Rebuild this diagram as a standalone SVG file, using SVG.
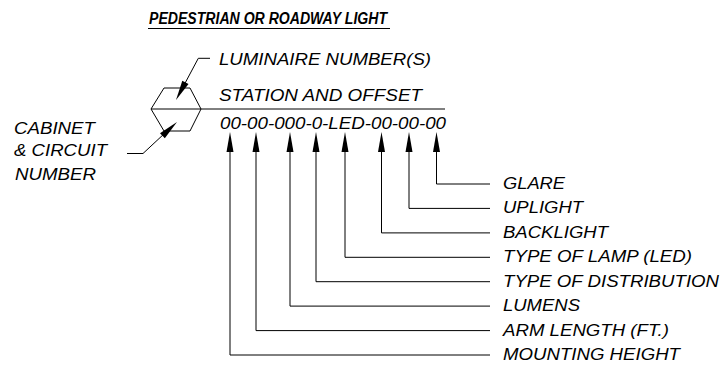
<svg xmlns="http://www.w3.org/2000/svg" width="725" height="365" viewBox="0 0 725 365">
<style>
.t{font-family:"Liberation Sans",Arial,sans-serif;font-style:italic;font-size:16.5px;fill:#000}
.ttl{font-family:"Liberation Sans",Arial,sans-serif;font-style:italic;font-weight:bold;font-size:16px;fill:#000}
.ln{fill:none;stroke:#000;stroke-width:1}
.ah{fill:#000;stroke:none}
</style>
<rect width="725" height="365" fill="#fff"/>
<g id="title">
<text class="ttl" x="149" y="23.5" textLength="238" lengthAdjust="spacingAndGlyphs">PEDESTRIAN OR ROADWAY LIGHT</text>
<line class="ln" x1="148" y1="28.5" x2="390" y2="28.5"/>
</g>
<g id="symbol">
<polygon class="ln" points="151,109 164,88 190,88 201,109 190,131 164,131"/>
<line class="ln" x1="151" y1="109" x2="445" y2="109"/>
</g>
<g id="luminaire">
<text class="t" x="219" y="64.5" textLength="212" lengthAdjust="spacingAndGlyphs">LUMINAIRE NUMBER(S)</text>
</g>
<g id="station">
<text class="t" x="219" y="101" textLength="203" lengthAdjust="spacingAndGlyphs">STATION AND OFFSET</text>
</g>
<g id="code">
<text class="t" x="220" y="129" textLength="226" lengthAdjust="spacingAndGlyphs">00-00-000-0-LED-00-00-00</text>
</g>
<g id="cabinet">
<text class="t" x="14" y="134" textLength="81" lengthAdjust="spacingAndGlyphs">CABINET</text>
<text class="t" x="14" y="156" textLength="93" lengthAdjust="spacingAndGlyphs">&amp; CIRCUIT</text>
<text class="t" x="15" y="180" textLength="81" lengthAdjust="spacingAndGlyphs">NUMBER</text>
</g>
<g id="labels">
<text class="t" x="503" y="189" textLength="62" lengthAdjust="spacingAndGlyphs">GLARE</text>
<text class="t" x="503" y="213.4" textLength="80" lengthAdjust="spacingAndGlyphs">UPLIGHT</text>
<text class="t" x="503" y="237.9" textLength="105" lengthAdjust="spacingAndGlyphs">BACKLIGHT</text>
<text class="t" x="503" y="262.3" textLength="189" lengthAdjust="spacingAndGlyphs">TYPE OF LAMP (LED)</text>
<text class="t" x="503" y="286.7" textLength="216" lengthAdjust="spacingAndGlyphs">TYPE OF DISTRIBUTION</text>
<text class="t" x="503" y="311.1" textLength="77" lengthAdjust="spacingAndGlyphs">LUMENS</text>
<text class="t" x="503" y="335.6" textLength="166" lengthAdjust="spacingAndGlyphs">ARM LENGTH (FT.)</text>
<text class="t" x="503" y="360" textLength="177" lengthAdjust="spacingAndGlyphs">MOUNTING HEIGHT</text>
</g>
<g id="connectors">
<polyline class="ln" points="210,58.3 198.3,58.3 183,87"/>
<polygon class="ah" points="176,100 188.5,84 182.3,80.8"/>
<polyline class="ln" points="127,153.5 143,153.5 165,133"/>
<polygon class="ah" points="177,122 164.8,138.3 160,133.2"/>
<path class="ln" d="M436.5,150 V184 H490"/>
<path class="ln" d="M409,150 V208.4 H490"/>
<path class="ln" d="M381.5,150 V232.9 H490"/>
<path class="ln" d="M345,150 V257.3 H490"/>
<path class="ln" d="M316,150 V281.7 H490"/>
<path class="ln" d="M290,150 V306.1 H490"/>
<path class="ln" d="M256,150 V330.6 H490"/>
<path class="ln" d="M230,150 V355 H490"/>
<polygon class="ah" points="436.5,132 440,152 433,152"/>
<polygon class="ah" points="409,132 412.5,152 405.5,152"/>
<polygon class="ah" points="381.5,132 385,152 378,152"/>
<polygon class="ah" points="345,132 348.5,152 341.5,152"/>
<polygon class="ah" points="316,132 319.5,152 312.5,152"/>
<polygon class="ah" points="290,132 293.5,152 286.5,152"/>
<polygon class="ah" points="256,132 259.5,152 252.5,152"/>
<polygon class="ah" points="230,132 233.5,152 226.5,152"/>
</g>
</svg>
